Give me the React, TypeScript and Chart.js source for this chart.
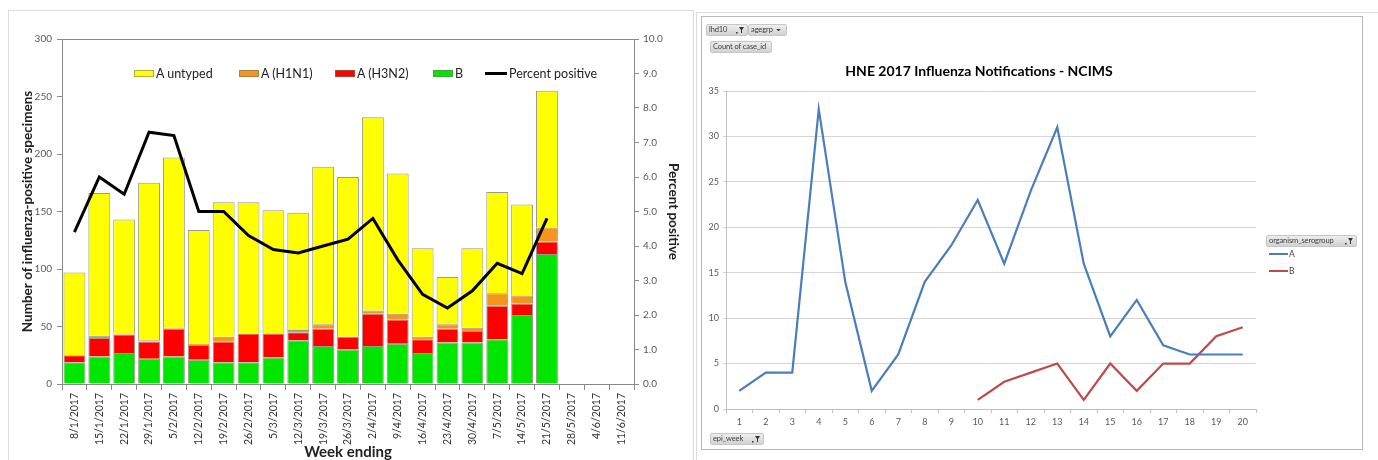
import React, { useEffect, useRef } from "react";
import { Chart, registerables } from "chart.js";

Chart.register(...registerables);

// ---------- Left chart data ----------
const weekLabels = [
  "8/1/2017", "15/1/2017", "22/1/2017", "29/1/2017", "5/2/2017", "12/2/2017",
  "19/2/2017", "26/2/2017", "5/3/2017", "12/3/2017", "19/3/2017", "26/3/2017",
  "2/4/2017", "9/4/2017", "16/4/2017", "23/4/2017", "30/4/2017", "7/5/2017",
  "14/5/2017", "21/5/2017", "28/5/2017", "4/6/2017", "11/6/2017",
];
const typeB = [19, 24, 27, 22, 24, 21, 19, 19, 23, 38, 33, 30, 33, 35, 27, 36, 36, 39, 60, 113, null, null, null];
const typeH3N2 = [6, 16, 16, 15, 24, 13, 18, 25, 21, 7, 15, 11, 28, 21, 12, 12, 10, 29, 10, 11, null, null, null];
const typeH1N1 = [0, 2, 1, 1, 1, 1, 4, 0, 0, 2, 4, 0, 3, 5, 2, 4, 3, 11, 7, 12, null, null, null];
const typeUntyped = [72, 124, 99, 137, 148, 99, 117, 114, 107, 102, 137, 139, 168, 122, 77, 41, 69, 88, 79, 119, null, null, null];
const percentPositive = [4.4, 6.0, 5.5, 7.3, 7.2, 5.0, 5.0, 4.3, 3.9, 3.8, 4.0, 4.2, 4.8, 3.6, 2.6, 2.2, 2.7, 3.5, 3.2, 4.8, null, null, null];

// ---------- Right chart data ----------
const epiWeeks = ["1", "2", "3", "4", "5", "6", "7", "8", "9", "10", "11", "12", "13", "14", "15", "16", "17", "18", "19", "20"];
const serogroupA = [2, 4, 4, 33, 14, 2, 6, 14, 18, 23, 16, 24, 31, 16, 8, 12, 7, 6, 6, 6];
const serogroupB = [null, null, null, null, null, null, null, null, null, 1, 3, 4, 5, 1, 5, 2, 5, 5, 8, 9];

const FONT = "Lato, 'Liberation Sans', sans-serif";

const COLORS = {
  untyped: "#FFFF00",
  h1n1: "#F7941E",
  h3n2: "#FF0000",
  b: "#00E600",
  line: "#000000",
  serA: "#4A7EBB",
  serB: "#BE4B48",
};

const topBorderPlugin = {
  id: "topBorder",
  afterDraw(chart: any) {
    const { ctx, chartArea } = chart;
    ctx.save();
    ctx.strokeStyle = "#8a8a8a";
    ctx.lineWidth = 1;
    ctx.beginPath();
    ctx.moveTo(chartArea.left, Math.round(chartArea.top) + 0.5);
    ctx.lineTo(chartArea.right, Math.round(chartArea.top) + 0.5);
    ctx.stroke();
    ctx.restore();
  },
};

function LeftChart() {
  const ref = useRef<HTMLCanvasElement | null>(null);
  useEffect(() => {
    if (!ref.current) return;
    const bw = (c: any) => (c.raw ? 1 : 0);
    const barCommon = {
      type: "bar" as const,
      yAxisID: "y",
      barPercentage: 0.88,
      categoryPercentage: 1,
      borderWidth: bw,
      borderColor: "rgba(120,120,100,0.75)",
      order: 1,
    };
    const chart = new Chart(ref.current, {
      type: "bar",
      data: {
        labels: weekLabels,
        datasets: [
          { ...barCommon, label: "B", data: typeB, backgroundColor: COLORS.b },
          { ...barCommon, label: "A (H3N2)", data: typeH3N2, backgroundColor: COLORS.h3n2 },
          { ...barCommon, label: "A (H1N1)", data: typeH1N1, backgroundColor: COLORS.h1n1 },
          { ...barCommon, label: "A untyped", data: typeUntyped, backgroundColor: COLORS.untyped },
          {
            type: "line" as const,
            label: "Percent positive",
            data: percentPositive,
            yAxisID: "y1",
            borderColor: COLORS.line,
            borderWidth: 3,
            pointRadius: 0,
            tension: 0,
            fill: false,
            order: 0,
          } as any,
        ],
      },
      options: {
        animation: false,
        responsive: false,
        maintainAspectRatio: false,
        layout: { padding: { top: 39, left: 0, right: 0, bottom: 0 } },
        plugins: { legend: { display: false }, tooltip: { enabled: false }, title: { display: false } },
        scales: {
          x: {
            stacked: true,
            offset: true,
            grid: { display: true, drawOnChartArea: false, offset: true, tickLength: 6, color: "#8a8a8a" },
            border: { display: true, color: "#8a8a8a" },
            ticks: {
              autoSkip: false,
              minRotation: 90,
              maxRotation: 90,
              padding: 3,
              color: "#333333",
              font: { family: FONT, size: 10.5 },
            },
            title: {
              display: true,
              text: "Week ending",
              color: "#222",
              font: { family: FONT, size: 15, weight: "bold", lineHeight: 1 },
              padding: { top: 0, bottom: 0 },
            },
            afterFit(s: any) { s.height = 76; },
          },
          y: {
            stacked: true,
            position: "left",
            min: 0,
            max: 300,
            ticks: { stepSize: 50, padding: 5, color: "#595959", font: { family: FONT, size: 10 } },
            grid: { display: true, drawOnChartArea: false, tickLength: 5, color: "#8a8a8a" },
            border: { display: true, color: "#8a8a8a" },
            title: {
              display: true,
              text: "Number of influenza-positive specimens",
              color: "#222",
              font: { family: FONT, size: 13.5, weight: "bold" },
              padding: { top: 20, bottom: 0 },
            },
            afterFit(s: any) { s.width = 62; },
          },
          y1: {
            position: "right",
            min: 0,
            max: 10,
            ticks: {
              stepSize: 1,
              padding: 4,
              color: "#595959",
              font: { family: FONT, size: 10 },
              callback: (v: any) => Number(v).toFixed(1),
            },
            grid: { display: true, drawOnChartArea: false, tickLength: 5, color: "#8a8a8a" },
            border: { display: true, color: "#8a8a8a" },
            title: {
              display: true,
              text: "Percent positive",
              color: "#222",
              font: { family: FONT, size: 13.5, weight: "bold" },
              padding: { top: 11, bottom: 0 },
            },
            afterFit(s: any) { s.width = 58; },
          },
        },
      } as any,
      plugins: [topBorderPlugin],
    });
    return () => chart.destroy();
  }, []);
  return (
    <canvas
      ref={ref}
      width={692}
      height={460}
      style={{ position: "absolute", left: 0, top: 0, width: 692, height: 460 }}
    />
  );
}

function RightChart() {
  const ref = useRef<HTMLCanvasElement | null>(null);
  useEffect(() => {
    if (!ref.current) return;
    const chart = new Chart(ref.current, {
      type: "line",
      data: {
        labels: epiWeeks,
        datasets: [
          { label: "A", data: serogroupA, borderColor: COLORS.serA, borderWidth: 2.2, pointRadius: 0, tension: 0, fill: false },
          { label: "B", data: serogroupB, borderColor: COLORS.serB, borderWidth: 2.2, pointRadius: 0, tension: 0, fill: false },
        ],
      },
      options: {
        animation: false,
        responsive: false,
        maintainAspectRatio: false,
        layout: { padding: { top: 0, left: 0, right: 106, bottom: 20 } },
        plugins: {
          legend: { display: false },
          tooltip: { enabled: false },
          title: {
            display: true,
            text: "HNE 2017 Influenza Notifications - NCIMS",
            color: "#000",
            font: { family: FONT, size: 14, weight: "bold" },
            padding: { top: 45.6, bottom: 11.6 },
          },
        },
        scales: {
          x: {
            offset: true,
            grid: { display: true, drawOnChartArea: false, offset: true, tickLength: 4, color: "#bfbfbf" },
            border: { display: true, color: "#bfbfbf" },
            ticks: { padding: 4, color: "#595959", font: { family: FONT, size: 9 }, autoSkip: false, maxRotation: 0 },
            afterFit(s: any) { s.height = 20; },
          },
          y: {
            min: 0,
            max: 35,
            ticks: { stepSize: 5, padding: 4, color: "#595959", font: { family: FONT, size: 9 } },
            grid: { color: "#d4d4d4", tickLength: 3, lineWidth: 1 },
            border: { display: true, color: "#bfbfbf" },
            afterFit(s: any) { s.width = 24; },
          },
        },
      } as any,
    });
    return () => chart.destroy();
  }, []);
  return (
    <canvas
      ref={ref}
      width={660}
      height={432}
      style={{ position: "absolute", left: 0, top: 0, width: 660, height: 432 }}
    />
  );
}

function FilterIcon() {
  return (
    <svg width="8" height="8" viewBox="0 0 8 8" style={{ position: "absolute", right: 3, top: 1 }}>
      <rect x="0" y="6" width="1.5" height="1.5" fill="#333" />
      <path d="M3 1 L8 1 L6 4 L6 7 L5 7 L5 4 Z" fill="#333" />
    </svg>
  );
}

function DropIcon() {
  return (
    <svg width="5" height="3" viewBox="0 0 6 4" style={{ position: "absolute", right: 5, top: 4 }}>
      <path d="M0 0 L6 0 L3 3 Z" fill="#333" />
    </svg>
  );
}

function PivotButton(props: { left: number; top: number; width: number; height?: number; text: string; icon?: "filter" | "drop" }) {
  const { left, top, width, height = 12, text, icon } = props;
  return (
    <div
      style={{
        position: "absolute",
        left,
        top,
        width,
        height,
        boxSizing: "border-box",
        background: "linear-gradient(#ededed, #d2d2d2)",
        border: "1px solid #c6c6c6",
        borderRadius: 2,
        fontFamily: FONT,
        fontSize: 7.5,
        letterSpacing: -0.1,
        color: "#404040",
        lineHeight: `${height - 2}px`,
        paddingLeft: 2,
        whiteSpace: "nowrap",
        overflow: "hidden",
      }}
    >
      {text}
      {icon === "filter" ? <FilterIcon /> : null}
      {icon === "drop" ? <DropIcon /> : null}
    </div>
  );
}

function LegendItem(props: { left: number; text: string; color: string; line?: boolean }) {
  const { left, text, color, line } = props;
  return (
    <div style={{ position: "absolute", left, top: 66, height: 14, display: "flex", alignItems: "center", whiteSpace: "nowrap" }}>
      {line ? (
        <div style={{ width: 22, height: 3, background: color }} />
      ) : (
        <div style={{ width: 20, height: 7, background: color, boxSizing: "border-box", border: "1px solid rgba(120,120,100,0.6)" }} />
      )}
      <span style={{ fontFamily: FONT, fontSize: 12.5, color: "#222", marginLeft: 2 }}>{text}</span>
    </div>
  );
}

export default function App() {
  return (
    <div style={{ position: "absolute", left: 0, top: 0, width: 1378, height: 460, overflow: "hidden", background: "#fff" }}>
      {/* left panel frame */}
      <div style={{ position: "absolute", left: 8, top: 10, width: 686, height: 470, border: "1px solid #dcdcdc", boxSizing: "border-box" }} />
      {/* right panel outer frame */}
      <div style={{ position: "absolute", left: 696, top: 12, width: 700, height: 470, border: "1px solid #dcdcdc", boxSizing: "border-box" }} />

      <LeftChart />
      <LegendItem left={134} text="A untyped" color={COLORS.untyped} />
      <LegendItem left={239} text="A (H1N1)" color={COLORS.h1n1} />
      <LegendItem left={335} text="A (H3N2)" color={COLORS.h3n2} />
      <LegendItem left={433} text="B" color={COLORS.b} />
      <LegendItem left={485} text="Percent positive" color={COLORS.line} line />

      {/* right chart inner frame */}
      <div style={{ position: "absolute", left: 701, top: 16, width: 662, height: 434, border: "1px solid #b8b8b8", boxSizing: "border-box" }}>
        <div style={{ position: "absolute", left: 0, top: 0, width: 660, height: 432 }}>
          <RightChart />
        </div>
      </div>

      <PivotButton left={706} top={24} width={42} text="lhd10" icon="filter" />
      <PivotButton left={748} top={24} width={39} text="agegrp" icon="drop" />
      <PivotButton left={710} top={41} width={62} text="Count of case_id" />
      <PivotButton left={710} top={433} width={54} text="epi_week" icon="filter" />
      <PivotButton left={1266} top={235} width={91} text="organism_serogroup" icon="filter" />

      <div style={{ position: "absolute", left: 1269, top: 248, display: "flex", alignItems: "center", height: 12 }}>
        <div style={{ width: 19, height: 2, background: COLORS.serA }} />
        <span style={{ fontFamily: FONT, fontSize: 8.5, color: "#404040", marginLeft: 1 }}>A</span>
      </div>
      <div style={{ position: "absolute", left: 1269, top: 265, display: "flex", alignItems: "center", height: 12 }}>
        <div style={{ width: 19, height: 2, background: COLORS.serB }} />
        <span style={{ fontFamily: FONT, fontSize: 8.5, color: "#404040", marginLeft: 1 }}>B</span>
      </div>
    </div>
  );
}
